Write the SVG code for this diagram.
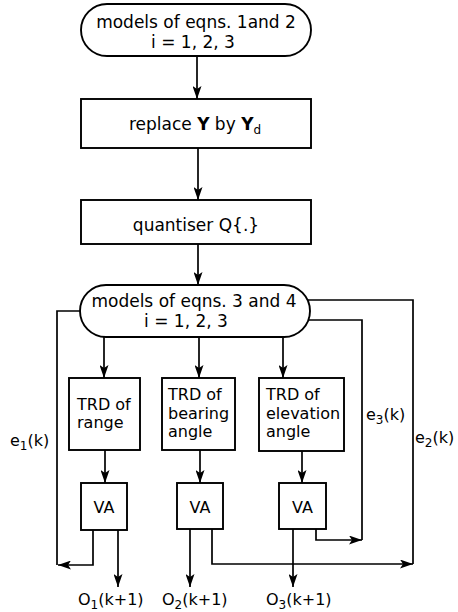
<svg xmlns="http://www.w3.org/2000/svg" width="458" height="612" viewBox="0 0 458 612">
<style>
.box{fill:#fff;stroke:#000;stroke-width:1.9}
.ln{fill:none;stroke:#000;stroke-width:1.7}
.arr{marker-end:url(#ah)}
text{font-family:"DejaVu Sans","Liberation Sans",sans-serif;font-size:16px;fill:#000}
.big{font-size:17px}
.c{text-anchor:middle}
.sub{font-size:12px}
.b{font-weight:bold}
</style>
<defs>
<marker id="ah" markerUnits="userSpaceOnUse" markerWidth="14" markerHeight="9" refX="13" refY="4.5" orient="auto">
<path d="M0,0 L13,4.5 L0,9 L3,4.5 z" fill="#000"/>
</marker>
</defs>
<rect width="458" height="612" fill="#fff"/>
<g id="connectors">
<path class="ln arr" d="M197,56 V99"/>
<path class="ln arr" d="M198,148 V200"/>
<path class="ln arr" d="M198,244 V285"/>
<path class="ln arr" d="M104,336 V378"/>
<path class="ln arr" d="M199,337 V378"/>
<path class="ln arr" d="M283,337 V378"/>
<path class="ln arr" d="M105,450 V483"/>
<path class="ln arr" d="M200,450 V483"/>
<path class="ln arr" d="M302,451 V483"/>
<path class="ln arr" d="M118,530 V587"/>
<path class="ln arr" d="M190,529 V587"/>
<path class="ln arr" d="M293,529 V587"/>
<path class="ln arr" d="M93,530 V565 H58"/>
<path class="ln" d="M57,565 V311 H80"/>
<path class="ln arr" d="M212,529 V564 H413"/>
<path class="ln" d="M413,564 V300 H307.6"/>
<path class="ln arr" d="M316,529 V540 H362"/>
<path class="ln" d="M362,540 V320 H308.4"/>
</g>
<g id="models12">
<rect class="box" x="81" y="4" width="230" height="52" rx="26" ry="26"/>
<text class="big c" x="196" y="28">models of eqns. 1and 2</text>
<text class="big c" x="193" y="48">i = 1, 2, 3</text>
</g>
<g id="replace">
<rect class="box" x="81" y="99" width="230" height="49"/>
<text class="big c" x="195" y="130">replace <tspan class="b">Y</tspan> by <tspan class="b">Y</tspan><tspan class="sub" dy="4">d</tspan></text>
</g>
<g id="quantiser">
<rect class="box" x="81" y="200" width="230" height="44"/>
<text class="big c" x="196" y="231">quantiser Q{.}</text>
</g>
<g id="models34">
<rect class="box" x="80" y="285" width="230" height="52" rx="26" ry="26"/>
<text class="big c" x="194" y="307">models of eqns. 3 and 4</text>
<text class="big c" x="186" y="327">i = 1, 2, 3</text>
</g>
<g id="trd-range">
<rect class="box" x="69" y="378" width="71" height="72"/>
<text x="77" y="410">TRD of</text>
<text x="77" y="428">range</text>
</g>
<g id="trd-bearing">
<rect class="box" x="162" y="378" width="73" height="72"/>
<text x="168" y="400">TRD of</text>
<text x="168" y="419">bearing</text>
<text x="168" y="437">angle</text>
</g>
<g id="trd-elevation">
<rect class="box" x="259" y="378" width="85" height="73"/>
<text x="266" y="400">TRD of</text>
<text x="266" y="419">elevation</text>
<text x="266" y="437">angle</text>
</g>
<g id="va1">
<rect class="box" x="81" y="483" width="46" height="47"/>
<text class="c" x="104" y="513">VA</text>
</g>
<g id="va2">
<rect class="box" x="177" y="483" width="46" height="46"/>
<text class="c" x="200" y="513">VA</text>
</g>
<g id="va3">
<rect class="box" x="279" y="483" width="47" height="46"/>
<text class="c" x="302.5" y="513">VA</text>
</g>
<g id="labels">
<text x="10" y="446">e<tspan class="sub" dy="4">1</tspan><tspan dy="-4">(k)</tspan></text>
<text x="366" y="420">e<tspan class="sub" dy="4">3</tspan><tspan dy="-4">(k)</tspan></text>
<text x="415" y="443">e<tspan class="sub" dy="4">2</tspan><tspan dy="-4">(k)</tspan></text>
<text x="78" y="605">O<tspan class="sub" dy="4">1</tspan><tspan dy="-4">(k+1)</tspan></text>
<text x="162" y="605">O<tspan class="sub" dy="4">2</tspan><tspan dy="-4">(k+1)</tspan></text>
<text x="266" y="605">O<tspan class="sub" dy="4">3</tspan><tspan dy="-4">(k+1)</tspan></text>
</g>
</svg>
